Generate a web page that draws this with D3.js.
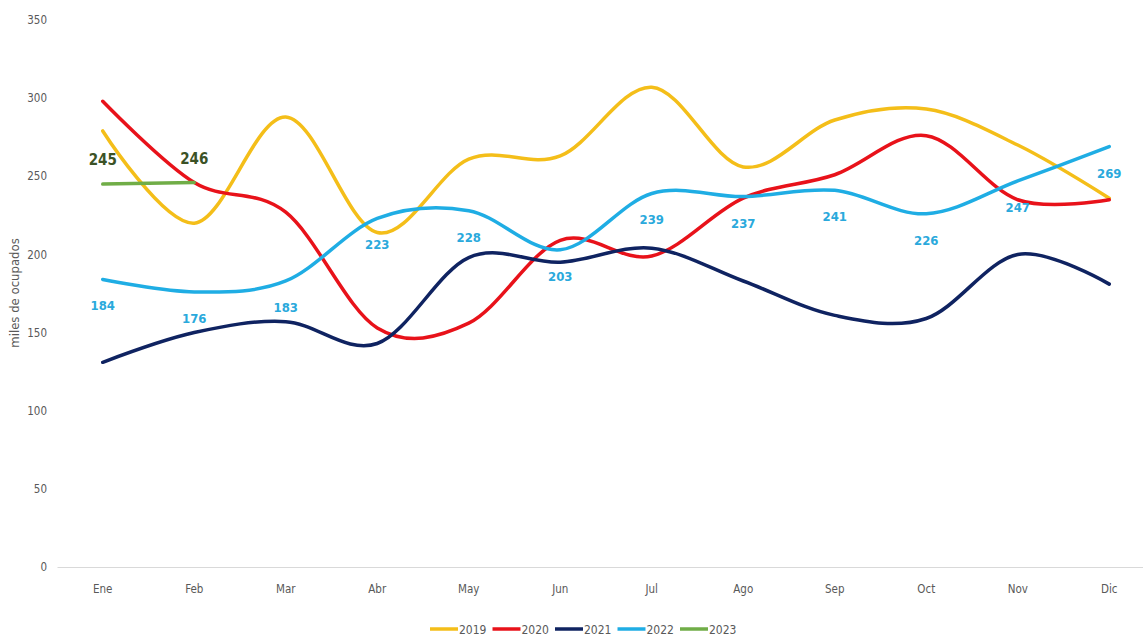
<!DOCTYPE html>
<html>
<head>
<meta charset="utf-8">
<script src="https://cdn.jsdelivr.net/npm/d3@7"></script>
<style>
  html, body { margin: 0; padding: 0; background: #fff; }
  svg text { font-family: "DejaVu Sans Condensed", "Liberation Sans Narrow", "Liberation Sans", sans-serif; font-stretch: condensed; }
</style>
</head>
<body>
<svg id="chart" width="1143" height="635"></svg>
<script>
const months = ["Ene","Feb","Mar","Abr","May","Jun","Jul","Ago","Sep","Oct","Nov","Dic"];
const yTicks = [0, 50, 100, 150, 200, 250, 300, 350];
const years = ["2019","2020","2021","2022","2023"];
const v2019 = [279, 220, 288, 214, 261, 263, 307, 256, 286, 293, 270, 236];
const v2020 = [298, 246, 227, 153, 156, 209, 199, 236, 251, 276, 235, 235];
const v2021 = [131, 150, 157, 143, 198, 195, 204, 183, 161, 159, 200, 181];
const v2022 = [184, 176, 183, 223, 228, 203, 239, 237, 241, 226, 247, 269];
const v2023 = [245, 246];
const colors = ["#F4BE19", "#E8121A", "#0F2361", "#1FADE4", "#70AD47"];
const labelColor2022 = "#2AA9DC";
const labelColor2023 = "#3B5226";

const seriesValues = [v2019, v2020, v2021, v2022, v2023];

const svg = d3.select("#chart");
const x = d3.scaleBand().domain(months).range([57, 1155]);
const y = d3.scaleLinear().domain([0, 350]).range([567, 20]);
const cx = m => x(m) + x.bandwidth() / 2;

// Y axis
const yAxis = d3.axisLeft(y).tickValues(yTicks).tickSize(0).tickPadding(0);
const gy = svg.append("g").attr("transform", "translate(47,0)").call(yAxis);
gy.select(".domain").remove();
gy.selectAll("text").attr("fill", "#595959").style("font-size", "11.5px");

// X axis
const xAxis = d3.axisBottom(x).tickSize(0).tickPadding(18);
const gx = svg.append("g").attr("transform", "translate(0,567)").call(xAxis);
gx.select(".domain").attr("stroke", "#D9D9D9").attr("stroke-width", 1);
gx.selectAll("text").attr("fill", "#595959").style("font-size", "11.5px");

// Y title
svg.append("text")
  .attr("transform", "translate(19,293) rotate(-90)")
  .attr("text-anchor", "middle")
  .attr("fill", "#595959")
  .style("font-size", "13px")
  .text("miles de ocupados");

// Lines
const line = d3.line()
  .x((d, i) => cx(months[i]))
  .y(d => y(d))
  .curve(d3.curveCatmullRom.alpha(0));

seriesValues.forEach((vals, k) => {
  svg.append("path")
    .datum(vals)
    .attr("d", line)
    .attr("fill", "none")
    .attr("stroke", colors[k])
    .attr("stroke-width", 3.5)
    .attr("stroke-linecap", "round");
});

// Labels 2022
svg.append("g").selectAll("text")
  .data(v2022)
  .join("text")
  .attr("x", (d, i) => cx(months[i]))
  .attr("y", d => y(d) + 31)
  .attr("text-anchor", "middle")
  .attr("fill", labelColor2022)
  .attr("font-weight", "bold")
  .style("font-size", "13px")
  .text(d => d);

// Labels 2023
svg.append("g").selectAll("text")
  .data(v2023)
  .join("text")
  .attr("x", (d, i) => cx(months[i]))
  .attr("y", d => y(d) - 19)
  .attr("text-anchor", "middle")
  .attr("fill", labelColor2023)
  .attr("font-weight", "bold")
  .style("font-size", "15px")
  .text(d => d);

// Legend
const legend = svg.append("g").attr("transform", "translate(430,629)");
years.forEach((yr, i) => {
  const g = legend.append("g").attr("transform", `translate(${i * 62.5},0)`);
  g.append("line").attr("x1", 0).attr("x2", 28).attr("y1", 0).attr("y2", 0)
    .attr("stroke", colors[i]).attr("stroke-width", 3.5);
  g.append("text").attr("x", 29).attr("y", 4.5)
    .attr("fill", "#595959").style("font-size", "12px").text(yr);
});
</script>
</body>
</html>
